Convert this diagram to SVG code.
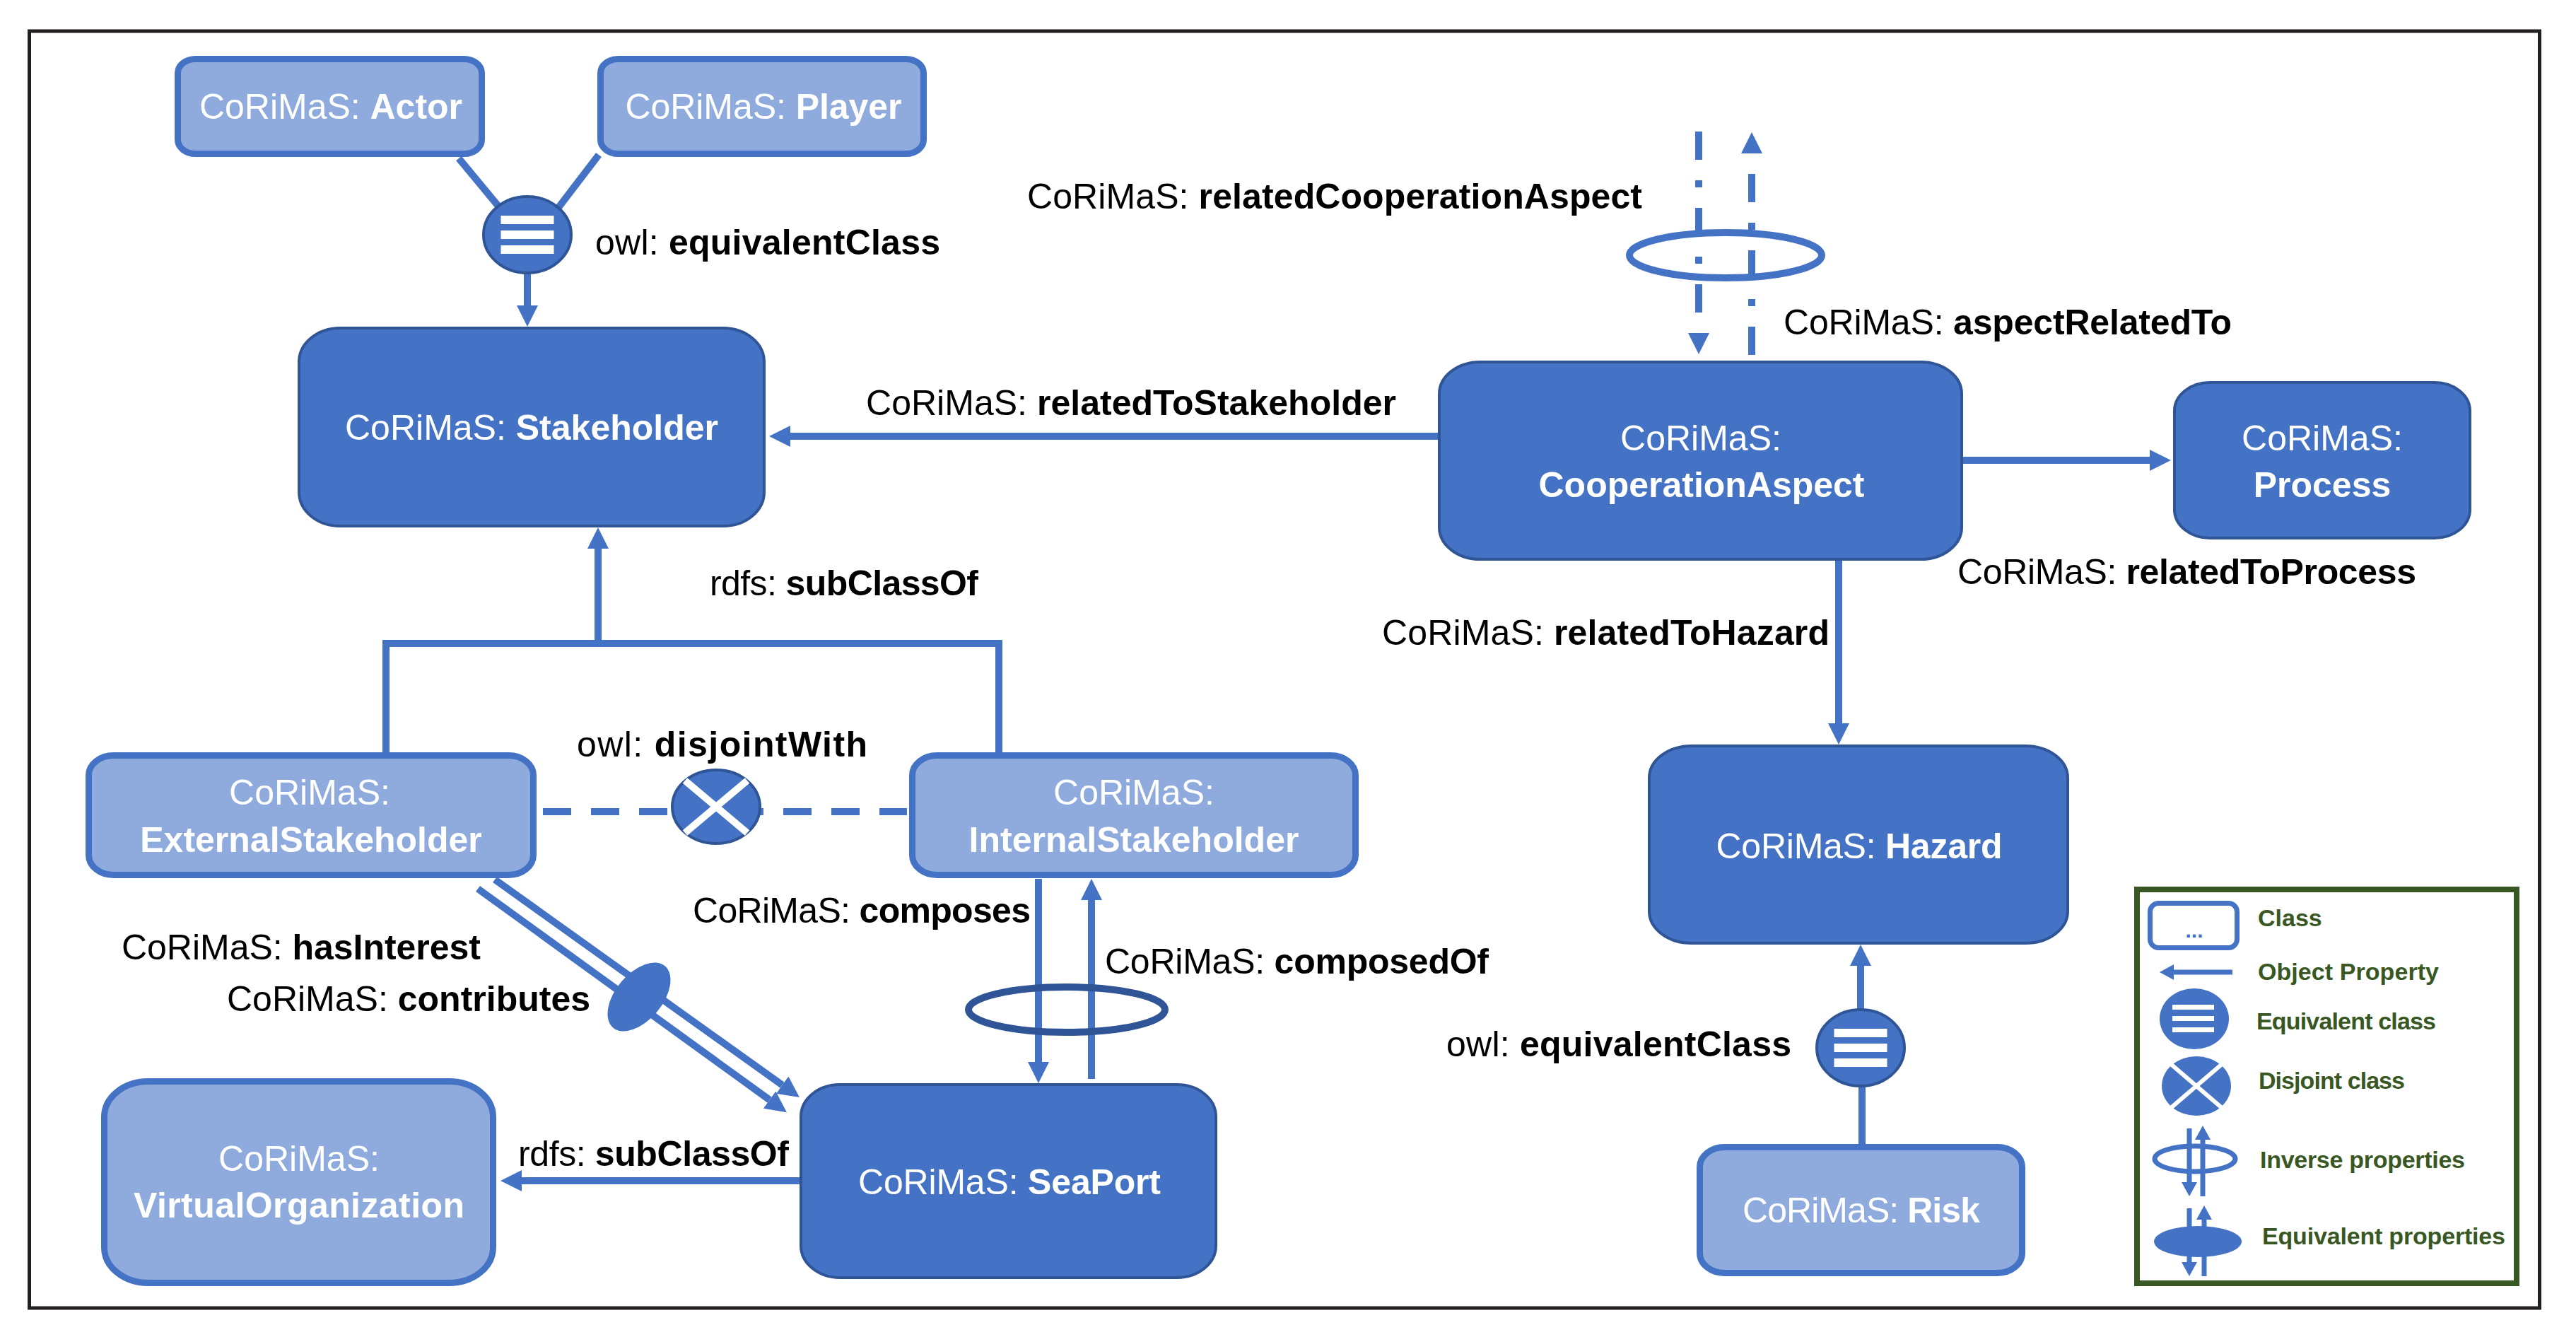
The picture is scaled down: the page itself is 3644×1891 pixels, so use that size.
<svg xmlns="http://www.w3.org/2000/svg" width="3644" height="1891" viewBox="0 0 3644 1891">
<style>
text{font-family:"Liberation Sans",Arial,sans-serif}
.dk{fill:#4472c4;stroke:#2f5597;stroke-width:4}
.lt{fill:#8faadc;stroke:#4472c4;stroke-width:9}
.cn{fill:none;stroke:#4472c4;stroke-width:10}
.sym{fill:#4472c4;stroke:#2f5597;stroke-width:4}
.bar{fill:#fff}
.xw{stroke:#fff;stroke-width:10}
.nl{font-size:50px;fill:#fff;text-anchor:middle}
.lb{font-size:50px;fill:#000}
.b{font-weight:bold}
.lg{font-size:34px;fill:#385723;font-weight:bold}
.lgc{fill:none;stroke:#4472c4;stroke-width:7}
</style>
<defs>
<marker id="ah" viewBox="0 0 30 30" markerUnits="userSpaceOnUse" markerWidth="30" markerHeight="30" refX="0" refY="15" orient="auto"><path d="M0,0 L30,15 L0,30 z" fill="#4472c4"/></marker>
<marker id="ahs" viewBox="0 0 20 22" markerUnits="userSpaceOnUse" markerWidth="20" markerHeight="22" refX="0" refY="11" orient="auto"><path d="M0,0 L20,11 L0,22 z" fill="#4472c4"/></marker>
</defs>
<rect x="0" y="0" width="3644" height="1891" fill="#fff"/>
<rect id="frame" x="41.5" y="44" width="3551" height="1806" fill="none" stroke="#231f20" stroke-width="5"/>

<g id="connectors">
<path class="cn" d="M649,224 L712,300"/>
<path class="cn" d="M847,219 L782,304"/>
<path class="cn" d="M746,380 V432" marker-end="url(#ah)"/>
<path class="cn" d="M2034,617 H1118" marker-end="url(#ah)"/>
<path class="cn" d="M546,1064 V910 H1413 V1064"/>
<path class="cn" d="M846,910 V776" marker-end="url(#ah)"/>
<path class="cn" d="M768,1148 H1283" stroke-dasharray="40 28"/>
<path class="cn" d="M700,1244 L1106.6,1534.6" marker-end="url(#ah)"/>
<path class="cn" d="M676,1257 L1088.6,1555.6" marker-end="url(#ah)"/>
<path class="cn" d="M1469,1243 V1502" marker-end="url(#ah)"/>
<path class="cn" d="M1544,1526 V1273" marker-end="url(#ah)"/>
<path class="cn" d="M1131,1670 H738" marker-end="url(#ah)"/>
<path class="cn" d="M2777,651 H3041" marker-end="url(#ah)"/>
<path class="cn" d="M2601,793 V1023" marker-end="url(#ah)"/>
<path class="cn" d="M2634,1618 V1530"/>
<path class="cn" d="M2632,1430 V1366" marker-end="url(#ah)"/>
<path class="cn" d="M2403,186 V471" stroke-dasharray="40 29 10 29" marker-end="url(#ah)"/>
<path class="cn" d="M2478,502 V217" stroke-dasharray="40 29 10 29" marker-end="url(#ah)"/>
<ellipse class="cn" cx="2441" cy="361" rx="136" ry="32"/>
<ellipse class="cn" cx="1509" cy="1428" rx="139" ry="32" style="stroke:#2f5597"/>
<ellipse cx="904" cy="1410" rx="57" ry="33" fill="#4472c4" transform="rotate(-50 904 1410)"/>
<g id="eq-top">
<ellipse class="sym" cx="746" cy="332" rx="62" ry="54"/>
<rect class="bar" x="708.5" y="305" width="75" height="12"/>
<rect class="bar" x="708.5" y="326" width="75" height="12"/>
<rect class="bar" x="708.5" y="347" width="75" height="12"/>
</g>
<g id="eq-bottom">
<ellipse class="sym" cx="2632" cy="1482" rx="62" ry="54"/>
<rect class="bar" x="2594.5" y="1455" width="75" height="12"/>
<rect class="bar" x="2594.5" y="1476" width="75" height="12"/>
<rect class="bar" x="2594.5" y="1497" width="75" height="12"/>
</g>
<g id="disjoint">
<ellipse class="sym" cx="1013" cy="1141" rx="62" ry="52"/>
<line class="xw" x1="969" y1="1104" x2="1057" y2="1178"/>
<line class="xw" x1="1057" y1="1104" x2="969" y2="1178"/>
</g>
</g>

<g id="labels">
<text class="lb" x="842" y="360" textLength="488">owl: <tspan class="b">equivalentClass</tspan></text>
<text class="lb" x="1225" y="587" textLength="750">CoRiMaS: <tspan class="b">relatedToStakeholder</tspan></text>
<text class="lb" x="1453" y="295" textLength="870">CoRiMaS: <tspan class="b">relatedCooperationAspect</tspan></text>
<text class="lb" x="2523" y="473" textLength="634">CoRiMaS: <tspan class="b">aspectRelatedTo</tspan></text>
<text class="lb" x="2769" y="826" textLength="649">CoRiMaS: <tspan class="b">relatedToProcess</tspan></text>
<text class="lb" x="1955" y="912" textLength="633">CoRiMaS: <tspan class="b">relatedToHazard</tspan></text>
<text class="lb" x="1004" y="842" textLength="380">rdfs: <tspan class="b">subClassOf</tspan></text>
<text class="lb" x="816" y="1070" textLength="411">owl: <tspan class="b">disjointWith</tspan></text>
<text class="lb" x="980" y="1305" textLength="478">CoRiMaS: <tspan class="b">composes</tspan></text>
<text class="lb" x="1563" y="1377" textLength="543">CoRiMaS: <tspan class="b">composedOf</tspan></text>
<text class="lb" x="172" y="1357" textLength="508">CoRiMaS: <tspan class="b">hasInterest</tspan></text>
<text class="lb" x="321" y="1430" textLength="514">CoRiMaS: <tspan class="b">contributes</tspan></text>
<text class="lb" x="733" y="1649" textLength="383">rdfs: <tspan class="b">subClassOf</tspan></text>
<text class="lb" x="2046" y="1494" textLength="488">owl: <tspan class="b">equivalentClass</tspan></text>
</g>

<g id="actor">
<rect class="lt" x="251.5" y="83.5" width="430" height="134" rx="25" ry="20"/>
<text class="nl" x="468" y="168" textLength="372">CoRiMaS: <tspan class="b">Actor</tspan></text>
</g>
<g id="player">
<rect class="lt" x="849.5" y="83.5" width="457" height="134" rx="25" ry="20"/>
<text class="nl" x="1080" y="168" textLength="391">CoRiMaS: <tspan class="b">Player</tspan></text>
</g>
<g id="stakeholder">
<rect class="dk" x="423" y="464" width="658" height="280" rx="58" ry="48"/>
<text class="nl" x="752" y="622" textLength="528">CoRiMaS: <tspan class="b">Stakeholder</tspan></text>
</g>
<g id="cooperationAspect">
<rect class="dk" x="2036" y="512" width="739" height="279" rx="58" ry="45"/>
<text class="nl" x="2406" y="637">CoRiMaS:</text>
<text class="nl b" x="2407" y="703" textLength="461">CooperationAspect</text>
</g>
<g id="process">
<rect class="dk" x="3076" y="541" width="418" height="220" rx="50" ry="40"/>
<text class="nl" x="3285" y="637">CoRiMaS:</text>
<text class="nl b" x="3285" y="703">Process</text>
</g>
<g id="externalStakeholder">
<rect class="lt" x="125.5" y="1068.5" width="629" height="169" rx="35" ry="28"/>
<text class="nl" x="438" y="1138">CoRiMaS:</text>
<text class="nl b" x="440" y="1205">ExternalStakeholder</text>
</g>
<g id="internalStakeholder">
<rect class="lt" x="1290.5" y="1068.5" width="627" height="169" rx="35" ry="28"/>
<text class="nl" x="1604" y="1138">CoRiMaS:</text>
<text class="nl b" x="1604" y="1205">InternalStakeholder</text>
</g>
<g id="virtualOrganization">
<rect class="lt" x="147.5" y="1529.5" width="550" height="285" rx="62" ry="50"/>
<text class="nl" x="423" y="1656">CoRiMaS:</text>
<text class="nl b" x="423" y="1722" textLength="468">VirtualOrganization</text>
</g>
<g id="seaPort">
<rect class="dk" x="1133" y="1534" width="587" height="273" rx="55" ry="45"/>
<text class="nl" x="1428" y="1689" textLength="428">CoRiMaS: <tspan class="b">SeaPort</tspan></text>
</g>
<g id="hazard">
<rect class="dk" x="2333" y="1055" width="592" height="279" rx="60" ry="45"/>
<text class="nl" x="2630" y="1214" textLength="405">CoRiMaS: <tspan class="b">Hazard</tspan></text>
</g>
<g id="risk">
<rect class="lt" x="2404.5" y="1622.5" width="456" height="178" rx="35" ry="28"/>
<text class="nl" x="2633" y="1729" textLength="336">CoRiMaS: <tspan class="b">Risk</tspan></text>
</g>

<g id="legend">
<rect x="3023" y="1258" width="537" height="557" fill="#fff" stroke="#385723" stroke-width="8"/>
<rect class="lgc" x="3041.5" y="1277.5" width="123" height="63" rx="12"/>
<text x="3104" y="1326" font-size="30" font-weight="bold" fill="#4472c4" text-anchor="middle">...</text>
<path class="lgc" d="M3158,1375 H3075" marker-end="url(#ahs)"/>
<ellipse cx="3104" cy="1441" rx="49" ry="43" fill="#4472c4"/>
<rect class="bar" x="3073" y="1421" width="59" height="7"/>
<rect class="bar" x="3073" y="1437" width="59" height="7"/>
<rect class="bar" x="3073" y="1453" width="59" height="7"/>
<ellipse cx="3107" cy="1536" rx="49" ry="42" fill="#4472c4"/>
<line x1="3072" y1="1506" x2="3142" y2="1566" stroke="#fff" stroke-width="6"/>
<line x1="3142" y1="1506" x2="3072" y2="1566" stroke="#fff" stroke-width="6"/>
<ellipse class="lgc" cx="3105" cy="1639" rx="57" ry="18"/>
<path class="lgc" d="M3097,1596 V1672" marker-end="url(#ahs)"/>
<path class="lgc" d="M3116,1692 V1612" marker-end="url(#ahs)"/>
<ellipse cx="3109" cy="1756" rx="62" ry="22" fill="#4472c4"/>
<path class="lgc" d="M3097,1709 V1785" marker-end="url(#ahs)"/>
<path class="lgc" d="M3118,1805 V1725" marker-end="url(#ahs)"/>
<text class="lg" x="3194" y="1310">Class</text>
<text class="lg" x="3194" y="1386" textLength="256">Object Property</text>
<text class="lg" x="3192" y="1456" textLength="254">Equivalent class</text>
<text class="lg" x="3195" y="1540" textLength="207">Disjoint class</text>
<text class="lg" x="3197" y="1652" textLength="290">Inverse properties</text>
<text class="lg" x="3200" y="1760" textLength="344">Equivalent properties</text>
</g>
</svg>
